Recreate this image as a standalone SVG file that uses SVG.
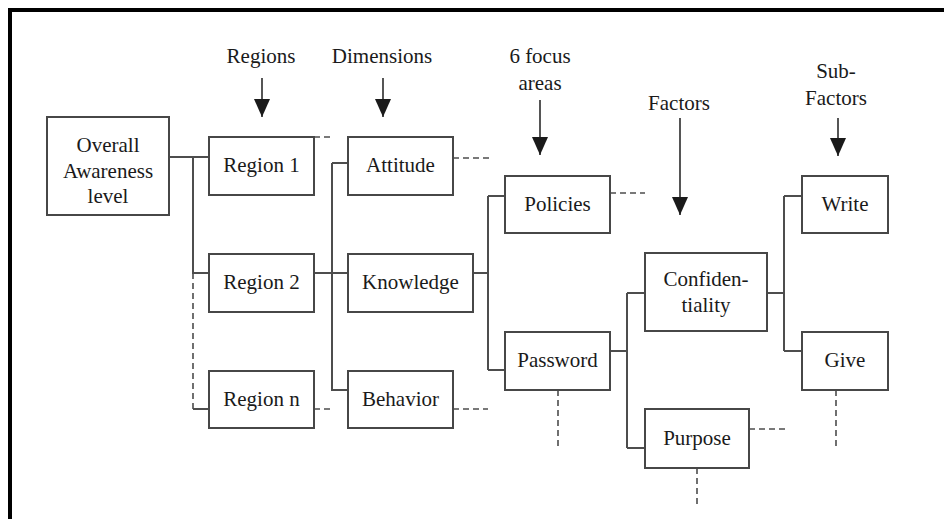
<svg xmlns="http://www.w3.org/2000/svg" width="944" height="519" viewBox="0 0 944 519">
  <style>
    .box { fill: #ffffff; stroke: #474747; stroke-width: 2; }
    .lbl { font-family: "Liberation Serif", "Times New Roman", serif; font-size: 21px; fill: #1a1a1a; text-anchor: middle; }
    .ln { fill: none; stroke: #4d4d4d; stroke-width: 2; }
    .dash { fill: none; stroke: #4d4d4d; stroke-width: 1.6; stroke-dasharray: 6 4; }
    .arr { fill: none; stroke: #2b2b2b; stroke-width: 1.6; }
  </style>
  <defs>
    <marker id="head" markerUnits="userSpaceOnUse" markerWidth="18" markerHeight="16" viewBox="0 0 18 16" refX="18" refY="8" orient="auto">
      <path d="M0,0 L18,8 L0,16 Z" fill="#1a1a1a"/>
    </marker>
  </defs>

  <rect width="944" height="519" fill="#ffffff"/>
  <!-- frame -->
  <path d="M10,519 V10 H944" fill="none" stroke="#000000" stroke-width="4"/>

  <!-- level headings with arrows -->
  <g id="headings">
    <text class="lbl" x="261" y="63">Regions</text>
    <text class="lbl" x="382" y="63">Dimensions</text>
    <text class="lbl" x="540" y="63">6 focus</text>
    <text class="lbl" x="540" y="90">areas</text>
    <text class="lbl" x="679" y="110">Factors</text>
    <text class="lbl" x="836" y="78">Sub-</text>
    <text class="lbl" x="836" y="105">Factors</text>
    <line class="arr" x1="262" y1="78" x2="262" y2="117" marker-end="url(#head)"/>
    <line class="arr" x1="383" y1="78" x2="383" y2="117" marker-end="url(#head)"/>
    <line class="arr" x1="540" y1="100" x2="540" y2="155" marker-end="url(#head)"/>
    <line class="arr" x1="680" y1="118" x2="680" y2="215" marker-end="url(#head)"/>
    <line class="arr" x1="838" y1="118" x2="838" y2="156" marker-end="url(#head)"/>
  </g>

  <!-- connectors -->
  <g id="connectors">
    <path class="ln" d="M169,157 H209 M193,157 V273 H209 M193,409 H209"/>
    <path class="ln" d="M314,273 H348 M332,163 H348 M332,163 V390 H348"/>
    <path class="ln" d="M473,273 H488 M488,196 V370 M488,196 H505 M488,370 H505"/>
    <path class="ln" d="M610,351 H627 M627,293 V448 M627,293 H645 M627,448 H645"/>
    <path class="ln" d="M767,293 H784 M784,196 V351 M784,196 H802 M784,351 H802"/>
    <path class="dash" d="M193,273 V409"/>
    <path class="dash" d="M314,137 H332"/>
    <path class="dash" d="M453,158 H490"/>
    <path class="dash" d="M314,409 H332"/>
    <path class="dash" d="M453,409 H488"/>
    <path class="dash" d="M610,193 H645"/>
    <path class="dash" d="M749,429 H785"/>
    <path class="dash" d="M558,390 V449"/>
    <path class="dash" d="M697,468 V507"/>
    <path class="dash" d="M836,390 V449"/>
  </g>

  <!-- nodes -->
  <g id="overall">
    <rect class="box" x="47" y="117" width="122" height="98"/>
    <text class="lbl" x="108" y="152">Overall</text>
    <text class="lbl" x="108" y="178">Awareness</text>
    <text class="lbl" x="108" y="203">level</text>
  </g>
  <g id="region1">
    <rect class="box" x="209" y="137" width="105" height="58"/>
    <text class="lbl" x="261.5" y="172">Region 1</text>
  </g>
  <g id="region2">
    <rect class="box" x="209" y="254" width="105" height="58"/>
    <text class="lbl" x="261.5" y="289">Region 2</text>
  </g>
  <g id="regionN">
    <rect class="box" x="209" y="371" width="105" height="57"/>
    <text class="lbl" x="261.5" y="406">Region n</text>
  </g>
  <g id="attitude">
    <rect class="box" x="348" y="137" width="105" height="58"/>
    <text class="lbl" x="400.5" y="172">Attitude</text>
  </g>
  <g id="knowledge">
    <rect class="box" x="348" y="254" width="125" height="58"/>
    <text class="lbl" x="410.5" y="289">Knowledge</text>
  </g>
  <g id="behavior">
    <rect class="box" x="348" y="371" width="105" height="57"/>
    <text class="lbl" x="400.5" y="406">Behavior</text>
  </g>
  <g id="policies">
    <rect class="box" x="505" y="176" width="105" height="57"/>
    <text class="lbl" x="557.5" y="211">Policies</text>
  </g>
  <g id="password">
    <rect class="box" x="505" y="332" width="105" height="58"/>
    <text class="lbl" x="557.5" y="367">Password</text>
  </g>
  <g id="confidentiality">
    <rect class="box" x="645" y="253" width="122" height="78"/>
    <text class="lbl" x="706" y="286">Confiden-</text>
    <text class="lbl" x="706" y="312">tiality</text>
  </g>
  <g id="purpose">
    <rect class="box" x="645" y="409" width="104" height="59"/>
    <text class="lbl" x="697" y="445">Purpose</text>
  </g>
  <g id="write">
    <rect class="box" x="802" y="176" width="86" height="57"/>
    <text class="lbl" x="845" y="211">Write</text>
  </g>
  <g id="give">
    <rect class="box" x="802" y="332" width="86" height="58"/>
    <text class="lbl" x="845" y="367">Give</text>
  </g>
</svg>
